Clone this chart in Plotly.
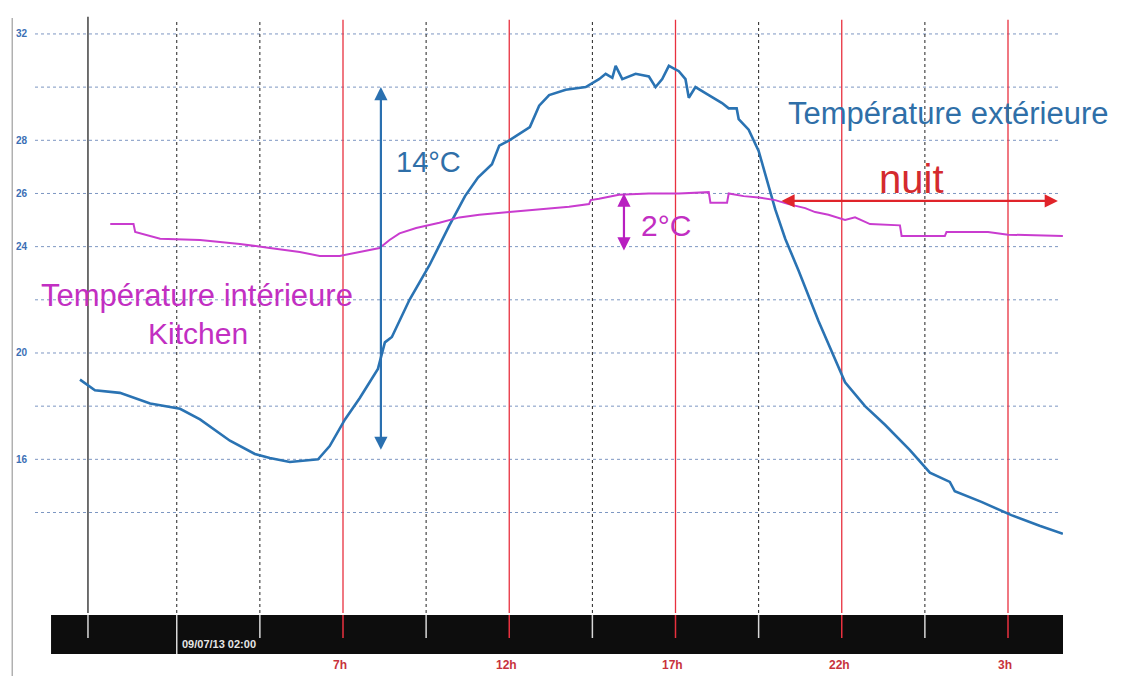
import plotly.graph_objects as go

# ---- data (hours from midnight 09/07/13; values in °C) ----
ext_hours = [-0.91, -0.46, 0.29, 1.2, 2.1, 2.7, 3.6, 4.35, 4.8, 5.4, 6.25, 6.6, 7.06, 7.5, 8.05, 8.26,
             8.47, 9.0, 9.6, 10.2, 10.67, 11.06, 11.48, 11.7, 12.0, 12.47, 12.62, 12.9, 13.2, 13.7,
             14.3, 14.7, 14.9, 15.1, 15.2, 15.4, 15.8, 16.2, 16.4, 16.6, 16.8, 17.1, 17.3, 17.4,
             17.6, 18.0, 18.4, 18.6, 18.84, 18.9, 19.2, 19.5, 19.75, 20.0, 20.3, 20.7, 21.3, 22.1,
             22.7, 23.3, 24.05, 24.65, 25.25, 25.4, 26.2, 27.1, 27.95, 28.65]
ext_temp = [19.0, 18.6, 18.5, 18.1, 17.9, 17.5, 16.7, 16.2, 16.05, 15.9, 16.0, 16.5, 17.5, 18.3, 19.4, 20.4,
            20.6, 22.0, 23.3, 24.8, 25.9, 26.6, 27.1, 27.8, 28.0, 28.4, 28.5, 29.3, 29.7, 29.9,
            30.0, 30.3, 30.5, 30.35, 30.8, 30.3, 30.5, 30.4, 30.0, 30.3, 30.8, 30.6, 30.3, 29.6,
            30.0, 29.7, 29.4, 29.2, 29.2, 28.8, 28.4, 27.6, 26.5, 25.4, 24.3, 23.1, 21.2, 18.9,
            18.0, 17.3, 16.35, 15.5, 15.15, 14.8, 14.4, 13.9, 13.5, 13.2]

int_hours = [0.0, 0.7, 0.75, 1.5, 2.7, 3.9, 4.8, 5.7, 6.3, 6.9, 7.5, 8.1, 8.4, 8.7, 9.2, 9.6, 9.9,
             10.5, 11.1, 12.0, 12.9, 13.8, 14.4, 14.45, 14.7, 15.3, 16.2, 17.1, 18.0, 18.05, 18.55,
             18.6, 19.05, 19.5, 20.0, 20.4, 20.9, 21.2, 21.6, 22.1, 22.4, 22.85, 23.75, 23.8, 25.1,
             25.15, 26.4, 27.0, 28.65]
int_temp = [24.85, 24.85, 24.55, 24.3, 24.25, 24.1, 23.95, 23.8, 23.65, 23.65, 23.8, 23.95, 24.25, 24.5,
            24.7, 24.8, 24.9, 25.1, 25.2, 25.3, 25.4, 25.5, 25.6, 25.75, 25.8, 25.95, 26.0, 26.0, 26.05,
            25.65, 25.65, 26.0, 25.9, 25.85, 25.75, 25.6, 25.45, 25.3, 25.2, 25.0, 25.1, 24.85, 24.8,
            24.4, 24.4, 24.55, 24.55, 24.45, 24.4]

# ---- axes / ticks ----
x_grid_hours = [2.0, 4.5, 7.0, 9.5, 12.0, 14.5, 17.0, 19.5, 22.0, 24.5, 27.0]
red_hours = [7.0, 12.0, 17.0, 22.0, 27.0]
red_labels = ["7h", "12h", "17h", "22h", "3h"]
y_grid_vals = [14, 16, 18, 20, 22, 24, 26, 28, 30, 32]
y_label_vals = [32, 28, 26, 24, 20, 16]
date_label = "09/07/13 02:00"
start_marker_hour = -0.67

BLUE = "#2a73b3"
MAGENTA = "#c22fc2"
RED = "#e0242a"

fig = go.Figure()
fig.add_trace(go.Scatter(x=ext_hours, y=ext_temp, mode="lines",
                         line=dict(color=BLUE, width=2.6), hoverinfo="skip", showlegend=False))
fig.add_trace(go.Scatter(x=int_hours, y=int_temp, mode="lines",
                         line=dict(color="#c93ccf", width=2.0), hoverinfo="skip",
                         showlegend=False))

shapes = []
# horizontal dashed grid
for v in y_grid_vals:
    shapes.append(dict(type="line", xref="paper", yref="y", x0=0, x1=0.997, y0=v, y1=v,
                       line=dict(color="#7d97c2", width=1, dash="3px,3px"), layer="below"))
# vertical grid (black dashed / red solid)
for h in x_grid_hours:
    if h in red_hours:
        shapes.append(dict(type="line", xref="x", yref="paper", x0=h, x1=h, y0=0, y1=0.997,
                           line=dict(color="#e8313f", width=1.3), layer="below"))
    else:
        shapes.append(dict(type="line", xref="x", yref="paper", x0=h, x1=h, y0=0, y1=0.997,
                           line=dict(color="#222222", width=1, dash="3px,3px"), layer="below"))
# start marker vertical line
shapes.append(dict(type="line", xref="x", yref="paper", x0=start_marker_hour, x1=start_marker_hour,
                   y0=0, y1=1.002, line=dict(color="#111111", width=1.2), layer="below"))
# thin left frame line
shapes.append(dict(type="line", xref="paper", yref="paper", x0=-0.0222, x1=-0.0222, y0=-0.11, y1=1.0,
                   line=dict(color="#8a8a8a", width=1)))
# black navigator bar
shapes.append(dict(type="rect", xref="paper", yref="paper", x0=0.0156, x1=1.0, y0=-0.0689, y1=-0.0034,
                   fillcolor="#0d0d0d", line=dict(width=0)))
# ticks inside bar
for h in x_grid_hours + [start_marker_hour]:
    col = "#e8313f" if h in red_hours else "#d8d8d8"
    y0 = -0.0689 if h == 2.0 else -0.042
    shapes.append(dict(type="line", xref="x", yref="paper", x0=h, x1=h, y0=y0, y1=-0.0034,
                       line=dict(color=col, width=1.5)))

annotations = []
for v in y_label_vals:
    annotations.append(dict(xref="paper", yref="y", x=-0.0205, y=v, xanchor="left", yanchor="middle",
                            text=str(v), showarrow=False,
                            font=dict(family="Liberation Sans", size=10, color="#3b6fb5", weight="bold")))
for h, lab in zip(red_hours, red_labels):
    annotations.append(dict(xref="x", yref="paper", x=h - 0.08, y=-0.0874, xanchor="center", yanchor="middle",
                            text=lab, showarrow=False,
                            font=dict(family="Liberation Sans", size=12, color="#c8323c", weight="bold")))
annotations.append(dict(xref="x", yref="paper", x=2.1, y=-0.052, xanchor="left", yanchor="middle",
                        text=date_label, showarrow=False,
                        font=dict(family="Liberation Sans", size=11, color="#e6e6e6", weight="bold")))

# text labels
annotations += [
    dict(xref="x", yref="y", x=25.2, y=29.0, text="Température extérieure", showarrow=False,
         font=dict(family="Liberation Sans", size=31, color="#2f6fa8")),
    dict(xref="x", yref="y", x=2.6, y=22.15, text="Température intérieure", showarrow=False,
         font=dict(family="Liberation Sans", size=31, color=MAGENTA)),
    dict(xref="x", yref="y", x=2.65, y=20.75, text="Kitchen", showarrow=False,
         font=dict(family="Liberation Sans", size=30, color=MAGENTA)),
    dict(xref="x", yref="y", x=9.57, y=27.2, text="14°C", showarrow=False,
         font=dict(family="Liberation Sans", size=29, color="#2f6fa8")),
    dict(xref="x", yref="y", x=16.7, y=24.8, text="2°C", showarrow=False,
         font=dict(family="Liberation Sans", size=30, color=MAGENTA)),
    dict(xref="x", yref="y", x=24.1, y=26.55, text="nuit", showarrow=False,
         font=dict(family="Liberation Sans", size=40, color="#d42a2e")),
]
# double arrows
annotations += [
    dict(xref="x", yref="y", axref="x", ayref="y", x=8.14, y=30.0, ax=8.14, ay=16.3, text="",
         showarrow=True, arrowside="end+start", arrowhead=2, startarrowhead=2,
         arrowsize=1.2, startarrowsize=1.2, arrowwidth=2.2, arrowcolor="#2a70b0"),
    dict(xref="x", yref="y", axref="x", ayref="y", x=15.45, y=26.0, ax=15.45, ay=23.8, text="",
         showarrow=True, arrowside="end+start", arrowhead=2, startarrowhead=2,
         arrowsize=1.2, startarrowsize=1.2, arrowwidth=2.2, arrowcolor="#b81fc0"),
    dict(xref="x", yref="y", axref="x", ayref="y", x=28.5, y=25.72, ax=20.14, ay=25.72, text="",
         showarrow=True, arrowside="end+start", arrowhead=2, startarrowhead=2,
         arrowsize=1.2, startarrowsize=1.2, arrowwidth=2.2, arrowcolor=RED),
]

# page body adds an 8px margin, so the figure is 8px smaller and shifted accordingly
fig.update_layout(
    width=1117, height=668,
    margin=dict(l=27, r=62, t=10, b=63),
    paper_bgcolor="white", plot_bgcolor="white",
    shapes=shapes, annotations=annotations,
    xaxis=dict(range=[-2.263, 28.654], showgrid=False, zeroline=False, showticklabels=False,
               showline=False, ticks=""),
    yaxis=dict(range=[10.22, 32.60], showgrid=False, zeroline=False, showticklabels=False,
               showline=False, ticks=""),
    font=dict(family="Liberation Sans"),
)

fig.write_html("out.html")
